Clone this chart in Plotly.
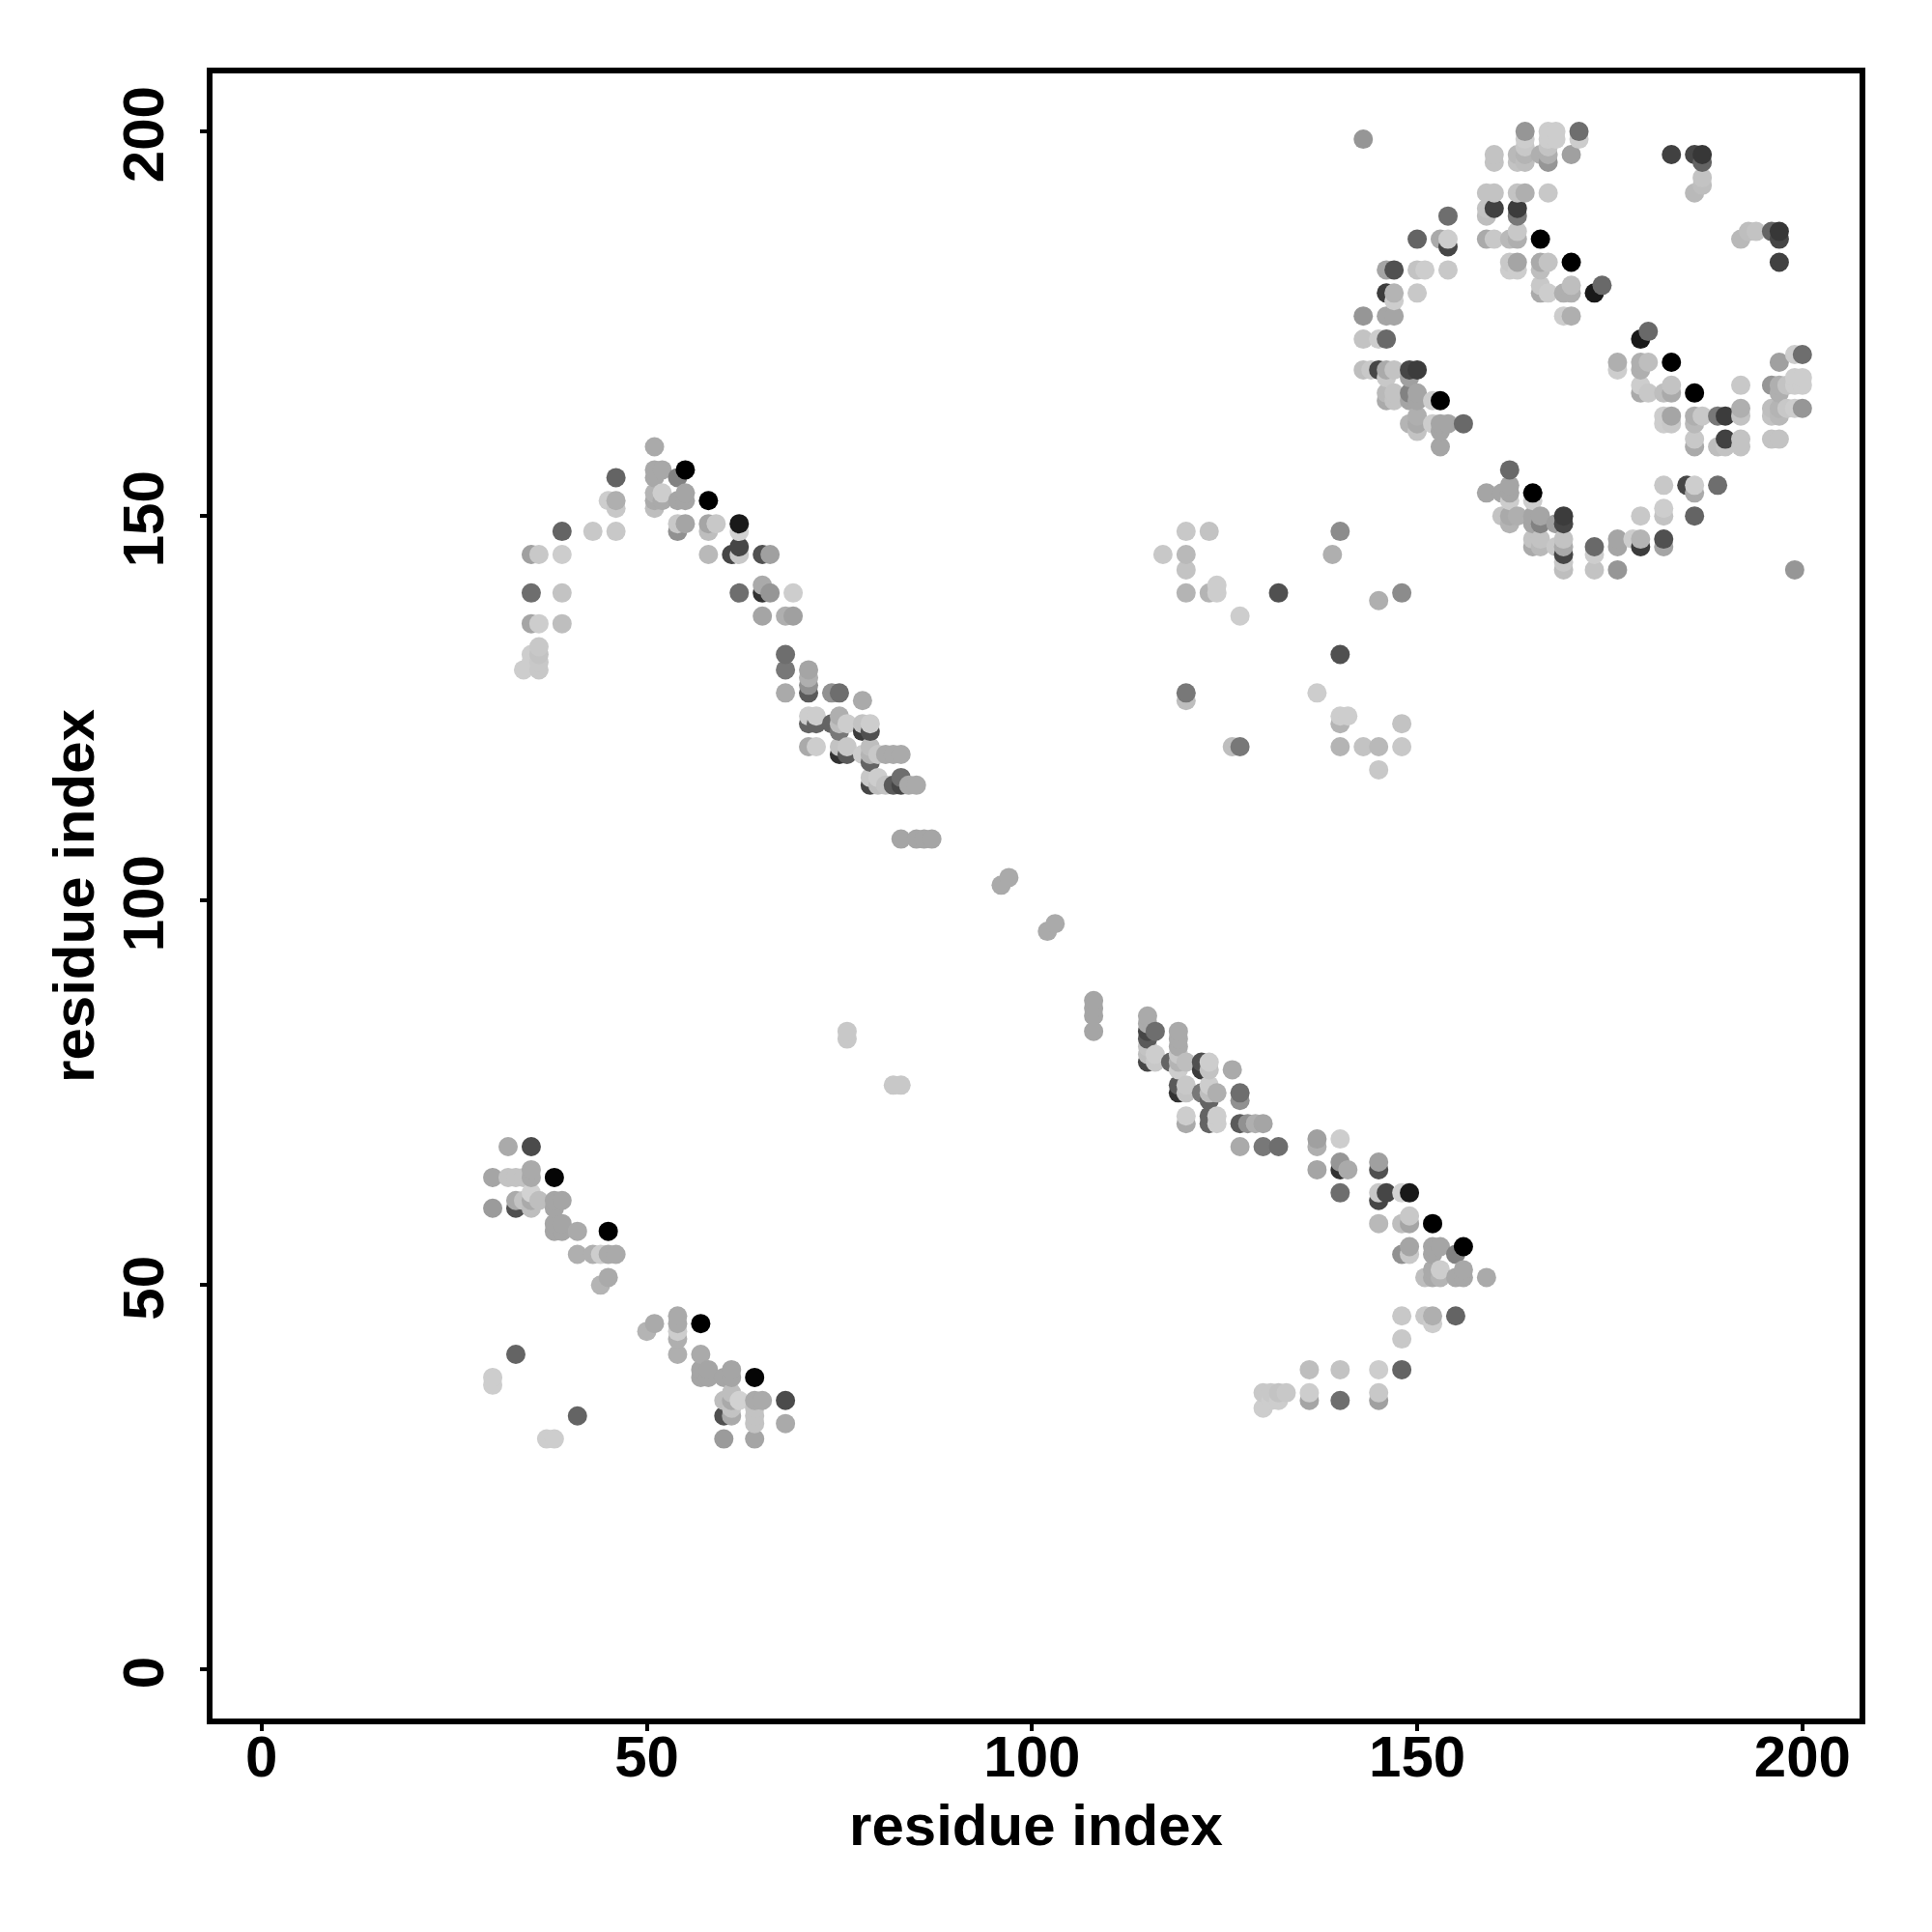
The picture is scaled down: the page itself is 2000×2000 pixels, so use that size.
import plotly.graph_objects as go

# contacts as (residue i, residue j, grey level); the map is symmetric
near_n_term = [
    (32,68,170),(35,68,75),(30,64,165),(32,64,195),(33,64,195),(34,64,195),(35,64,170),(35,65,170),
    (30,60,155),(33,60,80),(33,61,170),(34,61,195),(35,62,210),(35,61,170),(35,60,190),(36,61,190),
    (38,61,165),(39,61,165),(38,60,165),(38,58,165),(39,58,165),(38,57,165),(39,57,165),(41,57,170),
    (45,57,0),(41,54,175),(43,54,175),(44,54,205),(45,54,170),(46,54,170),(45,51,170),(44,50,180),
    (33,41,100),(30,38,205),(30,37,205),(38,64,5),
]
middle = [
    (76,83,200),(76,82,200),(96,102,170),(97,103,170),(83,108,165),(85,108,165),(86,108,165),(87,108,165),
    (117,145,200),(120,148,200),(123,148,195),(120,145,185),(120,143,195),(120,140,180),(123,140,180),
    (124,140,205),(124,141,205),(127,137,205),(132,140,80),(120,127,120),(120,126,190),(139,145,175),(140,148,140),
]
long_range = [
    (51,159,170),(51,156,168),(52,156,168),(51,155,168),(54,155,130),(55,156,0),(46,155,100),(45,152,205),(46,152,175),
    (46,151,200),(51,151,190),(51,153,180),(52,153,205),(51,152,170),(52,152,170),(54,152,165),(55,152,165),(55,153,165),
    (58,152,0),(54,149,200),(55,149,165),(54,148,145),(58,149,165),(59,149,200),(58,148,190),(62,149,25),(62,148,210),
    (62,146,70),(61,145,70),(62,145,200),(58,145,185),(65,145,80),(66,145,160),(39,148,100),(43,148,200),(46,148,200),
    (35,145,160),(36,145,200),(39,145,205),(35,140,110),(39,140,195),(35,136,165),(36,136,205),(39,136,190),
    (36,133,200),(35,132,205),(36,132,195),(36,131,200),(35,131,205),(34,130,205),(36,130,200),
    (62,140,110),(65,141,170),(65,140,50),(66,140,150),(69,140,205),(65,137,165),(68,137,175),(69,137,160),
    (68,132,110),(68,130,120),(68,127,170),(71,130,165),(71,129,175),(71,128,145),(71,127,90),(74,127,145),(75,127,110),
    (78,126,170),(71,124,205),(72,124,205),(71,123,100),(72,123,100),(74,123,100),(75,124,175),(75,123,190),(75,122,120),
    (76,123,205),(78,123,195),(79,123,205),(78,122,60),(79,122,80),(71,120,170),(72,120,205),(75,120,195),(76,120,200),
    (75,119,50),(76,119,90),(79,120,190),(78,119,205),(79,119,180),(80,119,200),(79,118,100),(81,119,170),(82,119,170),
    (83,119,170),(79,116,200),(80,116,205),(83,116,110),(79,115,70),(80,115,190),(81,115,195),(82,115,90),(83,115,70),
    (84,115,170),(85,115,170),
]
c_term = [
    (143,199,150),(164,200,150),(167,200,205),(168,200,205),(171,200,110),(171,199,205),(164,199,205),(164,198,200),
    (167,199,205),(168,199,205),(167,198,195),(160,197,195),(160,196,195),(163,197,185),(164,197,180),(163,196,195),
    (164,196,190),(166,197,175),(167,197,175),(167,196,150),(170,197,160),(183,197,65),(186,197,70),(187,197,55),
    (187,196,100),(187,194,195),(187,193,190),(186,192,185),(159,192,195),(160,192,195),(163,192,195),(164,192,175),
    (167,192,200),(159,190,195),(160,190,65),(159,189,190),(163,190,60),(163,189,120),(154,189,110),(150,186,100),
    (153,186,170),(154,186,205),(154,185,70),(159,186,170),(160,186,200),(162,186,185),(163,186,175),(163,187,200),
    (166,186,0),(146,182,165),(147,182,80),(150,182,195),(151,182,205),(154,182,200),(162,183,200),(163,183,165),
    (162,182,205),(163,182,205),(166,183,170),(167,183,195),(166,182,190),(170,183,0),(146,179,60),(147,179,180),
    (147,178,205),(150,179,200),(166,180,200),(166,179,170),(167,179,205),(169,179,175),(170,179,175),(170,180,190),
    (173,179,25),(174,180,105),(143,176,150),(146,176,165),(147,176,165),(169,176,205),(170,176,175),(143,173,195),
    (145,173,205),(146,173,105),(143,169,190),(144,169,200),(145,169,70),(146,169,170),(147,169,195),(149,169,70),
    (150,169,60),(146,168,200),(149,168,160),(146,166,185),(147,166,195),(146,165,170),(147,165,195),(149,166,130),
    (150,166,165),(149,165,165),(150,165,165),(152,165,205),(153,165,0),(149,162,180),(150,163,175),(150,162,170),
    (150,161,195),(152,162,205),(153,162,165),(154,162,165),(156,162,105),(153,161,165),(153,159,165),
]

contacts = {}
for group in (near_n_term, middle, long_range, c_term):
    for i, j, s in group:
        contacts[(i, j)] = s
        contacts[(j, i)] = s
ordered = sorted(contacts.items())
x_values = [k[0] for k, _ in ordered]
y_values = [k[1] for k, _ in ordered]
greys = [f"rgb({s},{s},{s})" for _, s in ordered]

ticks = [0, 50, 100, 150, 200]
axis_font = dict(family="Liberation Sans", size=60, color="black", weight=700)

axis = dict(
    tickvals=ticks, ticktext=[str(t) for t in ticks],
    showgrid=False, zeroline=False, showline=True, mirror=True,
    linecolor="black", linewidth=6, ticks="outside", ticklen=7, tickwidth=4,
    tickcolor="black", tickfont=axis_font,
)

fig = go.Figure(go.Scatter(
    x=x_values, y=y_values, mode="markers",
    marker=dict(size=20, color=greys, line=dict(width=0)),
    hoverinfo="skip",
))
fig.update_layout(
    width=2000, height=2000, autosize=False, showlegend=False,
    paper_bgcolor="white", plot_bgcolor="white",
    margin=dict(l=212, r=83, t=68, b=229, pad=0),
    xaxis=dict(axis, range=[-6.37, 207.42], ticklabelstandoff=-25,
               title=dict(text="residue index", font=axis_font, standoff=19)),
    yaxis=dict(axis, range=[-6.35, 207.55], tickangle=-90, ticklabelstandoff=14, ticklabelshift=12,
               title=dict(text="residue index", font=axis_font, standoff=0)),
)
fig.write_html("out.html")
